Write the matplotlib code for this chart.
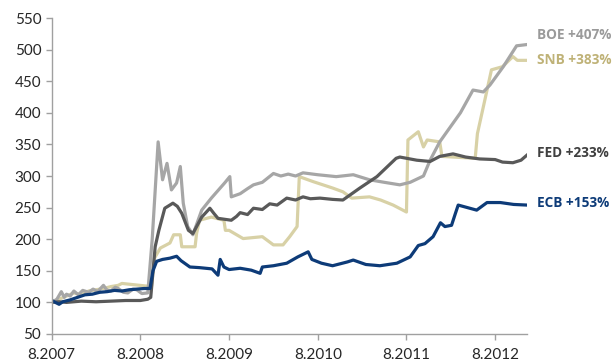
import matplotlib
matplotlib.use("Agg")
import matplotlib.pyplot as plt
import matplotlib.transforms as mtrans

# months since Aug 2007, index level (Aug 2007 = 100)
ecb_x = [0, 0.5, 1, 1.5, 2.5, 3.5, 4.5, 5.5, 6.5, 7.5, 8.5, 9.5, 10.5, 11.5, 12.5, 13.3, 13.7, 14.2, 15, 16,
         16.9, 17.5, 18.7, 20, 21.7, 22.5, 22.8, 23.3, 24, 25.5, 27, 28.2, 28.5, 30, 31.8, 33.3, 34.7, 35.2,
         36.5, 38, 40, 40.8, 42.5, 44.4, 46.7, 48.5, 49.6, 50.5, 51.6, 52.6, 53.2, 54.1, 54.6, 55, 57.5,
         58.9, 60.7, 62.5, 64.3]
ecb_y = [103, 100, 97, 101, 104, 108, 112, 113, 116, 117, 119, 118, 120, 121, 122, 122, 150, 165, 168, 170,
         173, 166, 156, 155, 153, 143, 168, 156, 152, 154, 151, 146, 156, 158, 162, 172, 180, 168,
         162, 158, 164, 167, 160, 158, 162, 172, 190, 193, 204, 226, 220, 222, 240, 254, 246,
         258, 258, 255, 254]

fed_x = [0, 1, 2, 4, 6, 8, 10, 12, 13, 13.4, 14, 14.5, 15.3, 16.4, 17, 17.6, 18.5, 19.1, 20.3, 21.4, 22,
         22.5, 24.3, 25, 25.5, 26.5, 27.3, 28.5, 29.5, 30.5, 31.8, 33, 34, 35, 36.3, 38, 39.4, 41.7, 44,
         46.6, 47.1, 49.4, 51.2, 52.5, 54.3, 56, 57.9, 60, 61, 62.4, 63.5, 64.3]
fed_y = [100, 101, 100, 102, 101, 102, 103, 103, 105, 108, 188, 214, 249, 257, 252, 241, 214, 209, 235, 249, 240,
         233, 230, 236, 242, 239, 249, 247, 256, 254, 265, 262, 267, 264, 265, 263, 262, 281, 299,
         328, 330, 325, 323, 331, 335, 330, 327, 326, 322, 321, 325, 333]

boe_x = [0, 0.7, 1.3, 1.7, 2, 2.5, 3, 3.6, 4.2, 5, 5.6, 6.2, 7, 7.5, 8, 8.6, 9, 9.7, 10.3, 11, 11.5, 12.2,
         13, 13.6, 14.4, 15, 15.6, 16.2, 16.9, 17.4, 17.8, 18.4, 19.1, 20.3, 21.6, 23.4, 24.1, 24.3, 25.5,
         26.5, 27.3, 28.5, 30, 31, 32, 33, 34, 36, 38.5, 40.8, 43, 45, 47.1, 48.5, 50.3, 51.2, 52.5, 55.3,
         57, 58.4, 59.3, 61.1, 62.9, 64.3]
boe_y = [100, 105, 117, 108, 113, 110, 118, 112, 119, 116, 121, 117, 127, 119, 118, 124, 122, 116, 115, 121,
         120, 114, 115, 200, 354, 294, 320, 278, 289, 315, 257, 220, 207, 246, 265, 289, 299, 267, 272,
         280, 286, 290, 304, 300, 303, 300, 305, 302, 299, 302, 294, 290, 286, 290, 300, 325, 354,
         400, 436, 433, 444, 473, 506, 508]

snb_x = [0, 1, 2, 3, 4, 5, 6, 7, 8, 9, 9.5, 13.5, 13.9, 14.7, 16, 16.5, 17.4, 17.6, 19.4, 19.6, 20, 21.6,
         23.3, 23.5, 24, 25.9, 28.5, 30, 31.3, 32.2, 33.2, 33.5, 35.4, 38, 39.4, 40.6, 43, 44.5, 46.2, 48,
         48.2, 49.6, 50.3, 50.8, 52.5, 52.8, 57.3, 57.6, 58.6, 59.5, 61, 62.4, 63, 64.3]
snb_y = [100, 105, 110, 115, 112, 118, 120, 122, 125, 127, 130, 125, 170, 186, 194, 207, 207, 188, 188, 209, 230, 235,
         230, 214, 214, 201, 204, 191, 191, 204, 220, 299, 291, 281, 275, 265, 267, 262, 254, 243,
         357, 370, 346, 357, 354, 331, 328, 367, 420, 468, 473, 489, 483, 483]

tick_pos = [0, 12, 24, 36, 48, 60]
tick_lab = ["8.2007", "8.2008", "8.2009", "8.2010", "8.2011", "8.2012"]

labels = ["BOE +407%", "SNB +383%", "FED +233%", "ECB +153%"]
label_y = [523, 484, 336, 257]

c_boe = "#a6a6a6"
c_snb = "#d8d1a6"
c_fed = "#595959"
c_ecb = "#0d3b78"
label_colors = ["#9a9a9a", "#bfb277", "#404040", c_ecb]

plt.rcParams['font.family'] = ['Lato', 'DejaVu Sans']

fig = plt.figure(figsize=(6.14, 3.63), dpi=100)
ax = fig.add_axes([0.0842, 0.0799, 0.774, 0.8705])

lw = 2.3
ax.plot(snb_x, snb_y, color=c_snb, lw=lw)
ax.plot(boe_x, boe_y, color=c_boe, lw=lw)
ax.plot(fed_x, fed_y, color=c_fed, lw=lw)
ax.plot(ecb_x, ecb_y, color=c_ecb, lw=lw)

ax.set_xlim(0, 64.3)
ax.set_ylim(50, 550)
ax.set_yticks(range(50, 551, 50))
ax.set_xticks(tick_pos)
ax.set_xticklabels(tick_lab)

for s in ["top", "right"]:
    ax.spines[s].set_visible(False)
for s in ["left", "bottom"]:
    ax.spines[s].set_color("#a0a0a0")
    ax.spines[s].set_linewidth(1)
ax.tick_params(axis="both", colors="#a0a0a0", labelcolor="#262626", labelsize=11, length=4, width=1)
ax.tick_params(axis="x", pad=6)

trans = mtrans.blended_transform_factory(ax.transAxes, ax.transData)
for txt, yv, col in zip(labels, label_y, label_colors):
    ax.text(1.021, yv, txt, transform=trans, color=col, fontsize=9.8, fontweight="bold",
            family=["Open Sans", "DejaVu Sans"], va="center", ha="left", clip_on=False)

fig.savefig("out.png", dpi=100)
